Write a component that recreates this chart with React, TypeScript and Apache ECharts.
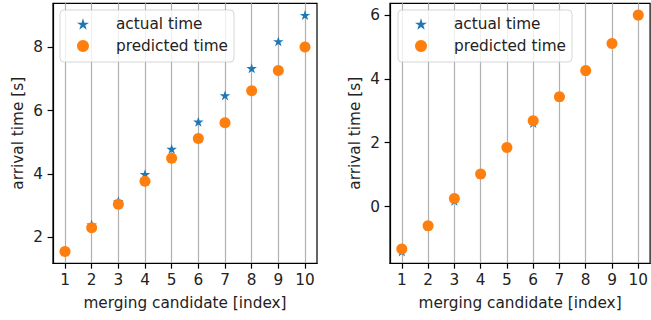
import React, { useEffect, useRef } from "react";
import * as echarts from "echarts";

// ---- data ----
const candidates = [1, 2, 3, 4, 5, 6, 7, 8, 9, 10];
const leftActual = [1.55, 2.4, 3.14, 3.99, 4.79, 5.65, 6.48, 7.34, 8.19, 9.02];
const leftPredicted = [1.55, 2.3, 3.04, 3.77, 4.5, 5.12, 5.62, 6.63, 7.27, 8.01];
const rightActual = [-1.41, -0.61, 0.18, 1.02, 1.85, 2.62, 3.44, 4.26, 5.11, 6.0];
const rightPredicted = [-1.33, -0.6, 0.25, 1.02, 1.85, 2.69, 3.44, 4.26, 5.11, 6.0];
const xTicks = [1, 2, 3, 4, 5, 6, 7, 8, 9, 10];
const leftYTicks = [2, 4, 6, 8];
const rightYTicks = [0, 2, 4, 6];
const seriesNames = ["actual time", "predicted time"];
const xTitle = "merging candidate [index]";
const yTitle = "arrival time [s]";

const STAR =
  "path://M0,-1L0.2245,-0.309L0.951,-0.309L0.363,0.118L0.588,0.809L0,0.382L-0.588,0.809L-0.363,0.118L-0.951,-0.309L-0.2245,-0.309Z";
const BLUE = "#1f77b4";
const ORANGE = "#ff7f0e";
const FONT = "DejaVu Sans";
const FS = 15.3;
const TXT = "#222";

function limits(arrs: number[][]) {
  const all = arrs.flat();
  const lo = Math.min(...all);
  const hi = Math.max(...all);
  const m = (hi - lo) * 0.05;
  return [lo - m, hi + m];
}

export default function App() {
  const ref = useRef<HTMLDivElement>(null);
  useEffect(() => {
    if (!ref.current) return;
    const chart = echarts.init(ref.current, undefined, { renderer: "svg" });
    const xMin = Math.min(...candidates) - 0.05 * (Math.max(...candidates) - Math.min(...candidates));
    const xMax = Math.max(...candidates) + 0.05 * (Math.max(...candidates) - Math.min(...candidates));
    const [lMin, lMax] = limits([leftActual, leftPredicted]);
    const [rMin, rMax] = limits([rightActual, rightPredicted]);

    const grids = [
      { left: 53, top: 3.3, width: 264, height: 260 },
      { left: 390, top: 3.3, width: 264, height: 260 },
    ].map((g) => ({ ...g, show: true, borderColor: "#000", borderWidth: 1.2, backgroundColor: "transparent" }));

    const xAxis = [0, 1].map((i) => ({
      type: "value",
      gridIndex: i,
      min: xMin,
      max: xMax,
      name: xTitle,
      nameLocation: "middle",
      nameGap: 32,
      nameTextStyle: { fontFamily: FONT, fontSize: FS, color: TXT },
      axisLine: { show: true, onZero: false, lineStyle: { color: "#000", width: 1.2 } },
      axisTick: { show: true, inside: false, length: 5.4, customValues: xTicks, lineStyle: { color: "#000", width: 1.2 } },
      axisLabel: { customValues: xTicks, margin: 9, fontFamily: FONT, fontSize: FS, color: TXT },
      splitLine: { show: true, lineStyle: { color: "#b0b0b0", width: 1.2 } },
    }));

    const yAxis = [
      { min: lMin, max: lMax, ticks: leftYTicks },
      { min: rMin, max: rMax, ticks: rightYTicks },
    ].map((a, i) => ({
      type: "value",
      gridIndex: i,
      min: a.min,
      max: a.max,
      name: yTitle,
      nameLocation: "middle",
      nameGap: 28,
      nameTextStyle: { fontFamily: FONT, fontSize: FS, color: TXT },
      axisLine: { show: true, onZero: false, lineStyle: { color: "#000", width: 1.2 } },
      axisTick: { show: true, inside: false, length: 5.4, customValues: a.ticks, lineStyle: { color: "#000", width: 1.2 } },
      axisLabel: { customValues: a.ticks, margin: 10, fontFamily: FONT, fontSize: FS, color: TXT },
      splitLine: { show: false },
    }));

    const mk = (vals: number[]) => candidates.map((c, k) => [c, vals[k]]);
    const series: any[] = [];
    [
      [leftActual, leftPredicted],
      [rightActual, rightPredicted],
    ].forEach(([act, pred], i) => {
      series.push({
        type: "scatter",
        name: seriesNames[0],
        xAxisIndex: i,
        yAxisIndex: i,
        data: mk(act),
        symbol: STAR,
        symbolKeepAspect: true,
        symbolSize: 10.5,
        itemStyle: { color: BLUE, opacity: 1 },
      });
      series.push({
        type: "scatter",
        name: seriesNames[1],
        xAxisIndex: i,
        yAxisIndex: i,
        data: mk(pred),
        symbol: "circle",
        symbolSize: 11,
        itemStyle: { color: ORANGE, opacity: 1 },
      });
    });

    const legend = [60, 398].map((left) => ({
      left,
      top: 10,
      orient: "vertical",
      selectedMode: false,
      data: [
        { name: seriesNames[0], icon: STAR },
        { name: seriesNames[1], icon: "circle" },
      ],
      itemWidth: 12,
      itemHeight: 12,
      itemGap: 6,
      itemStyle: { opacity: 1 },
      padding: [6, 6, 8, 17],
      backgroundColor: "rgba(255,255,255,0.8)",
      borderColor: "rgba(204,204,204,0.8)",
      borderWidth: 1,
      borderRadius: 4,
      textStyle: { fontFamily: FONT, fontSize: FS, color: TXT, lineHeight: 16, padding: [0, 0, 0, 22] },
    }));

    chart.setOption({
      animation: false,
      backgroundColor: "#fff",
      grid: grids,
      xAxis,
      yAxis,
      legend,
      series,
    });
    return () => chart.dispose();
  }, []);
  return <div ref={ref} style={{ position: "fixed", left: 0, top: 0, width: 651, height: 320 }} />;
}
